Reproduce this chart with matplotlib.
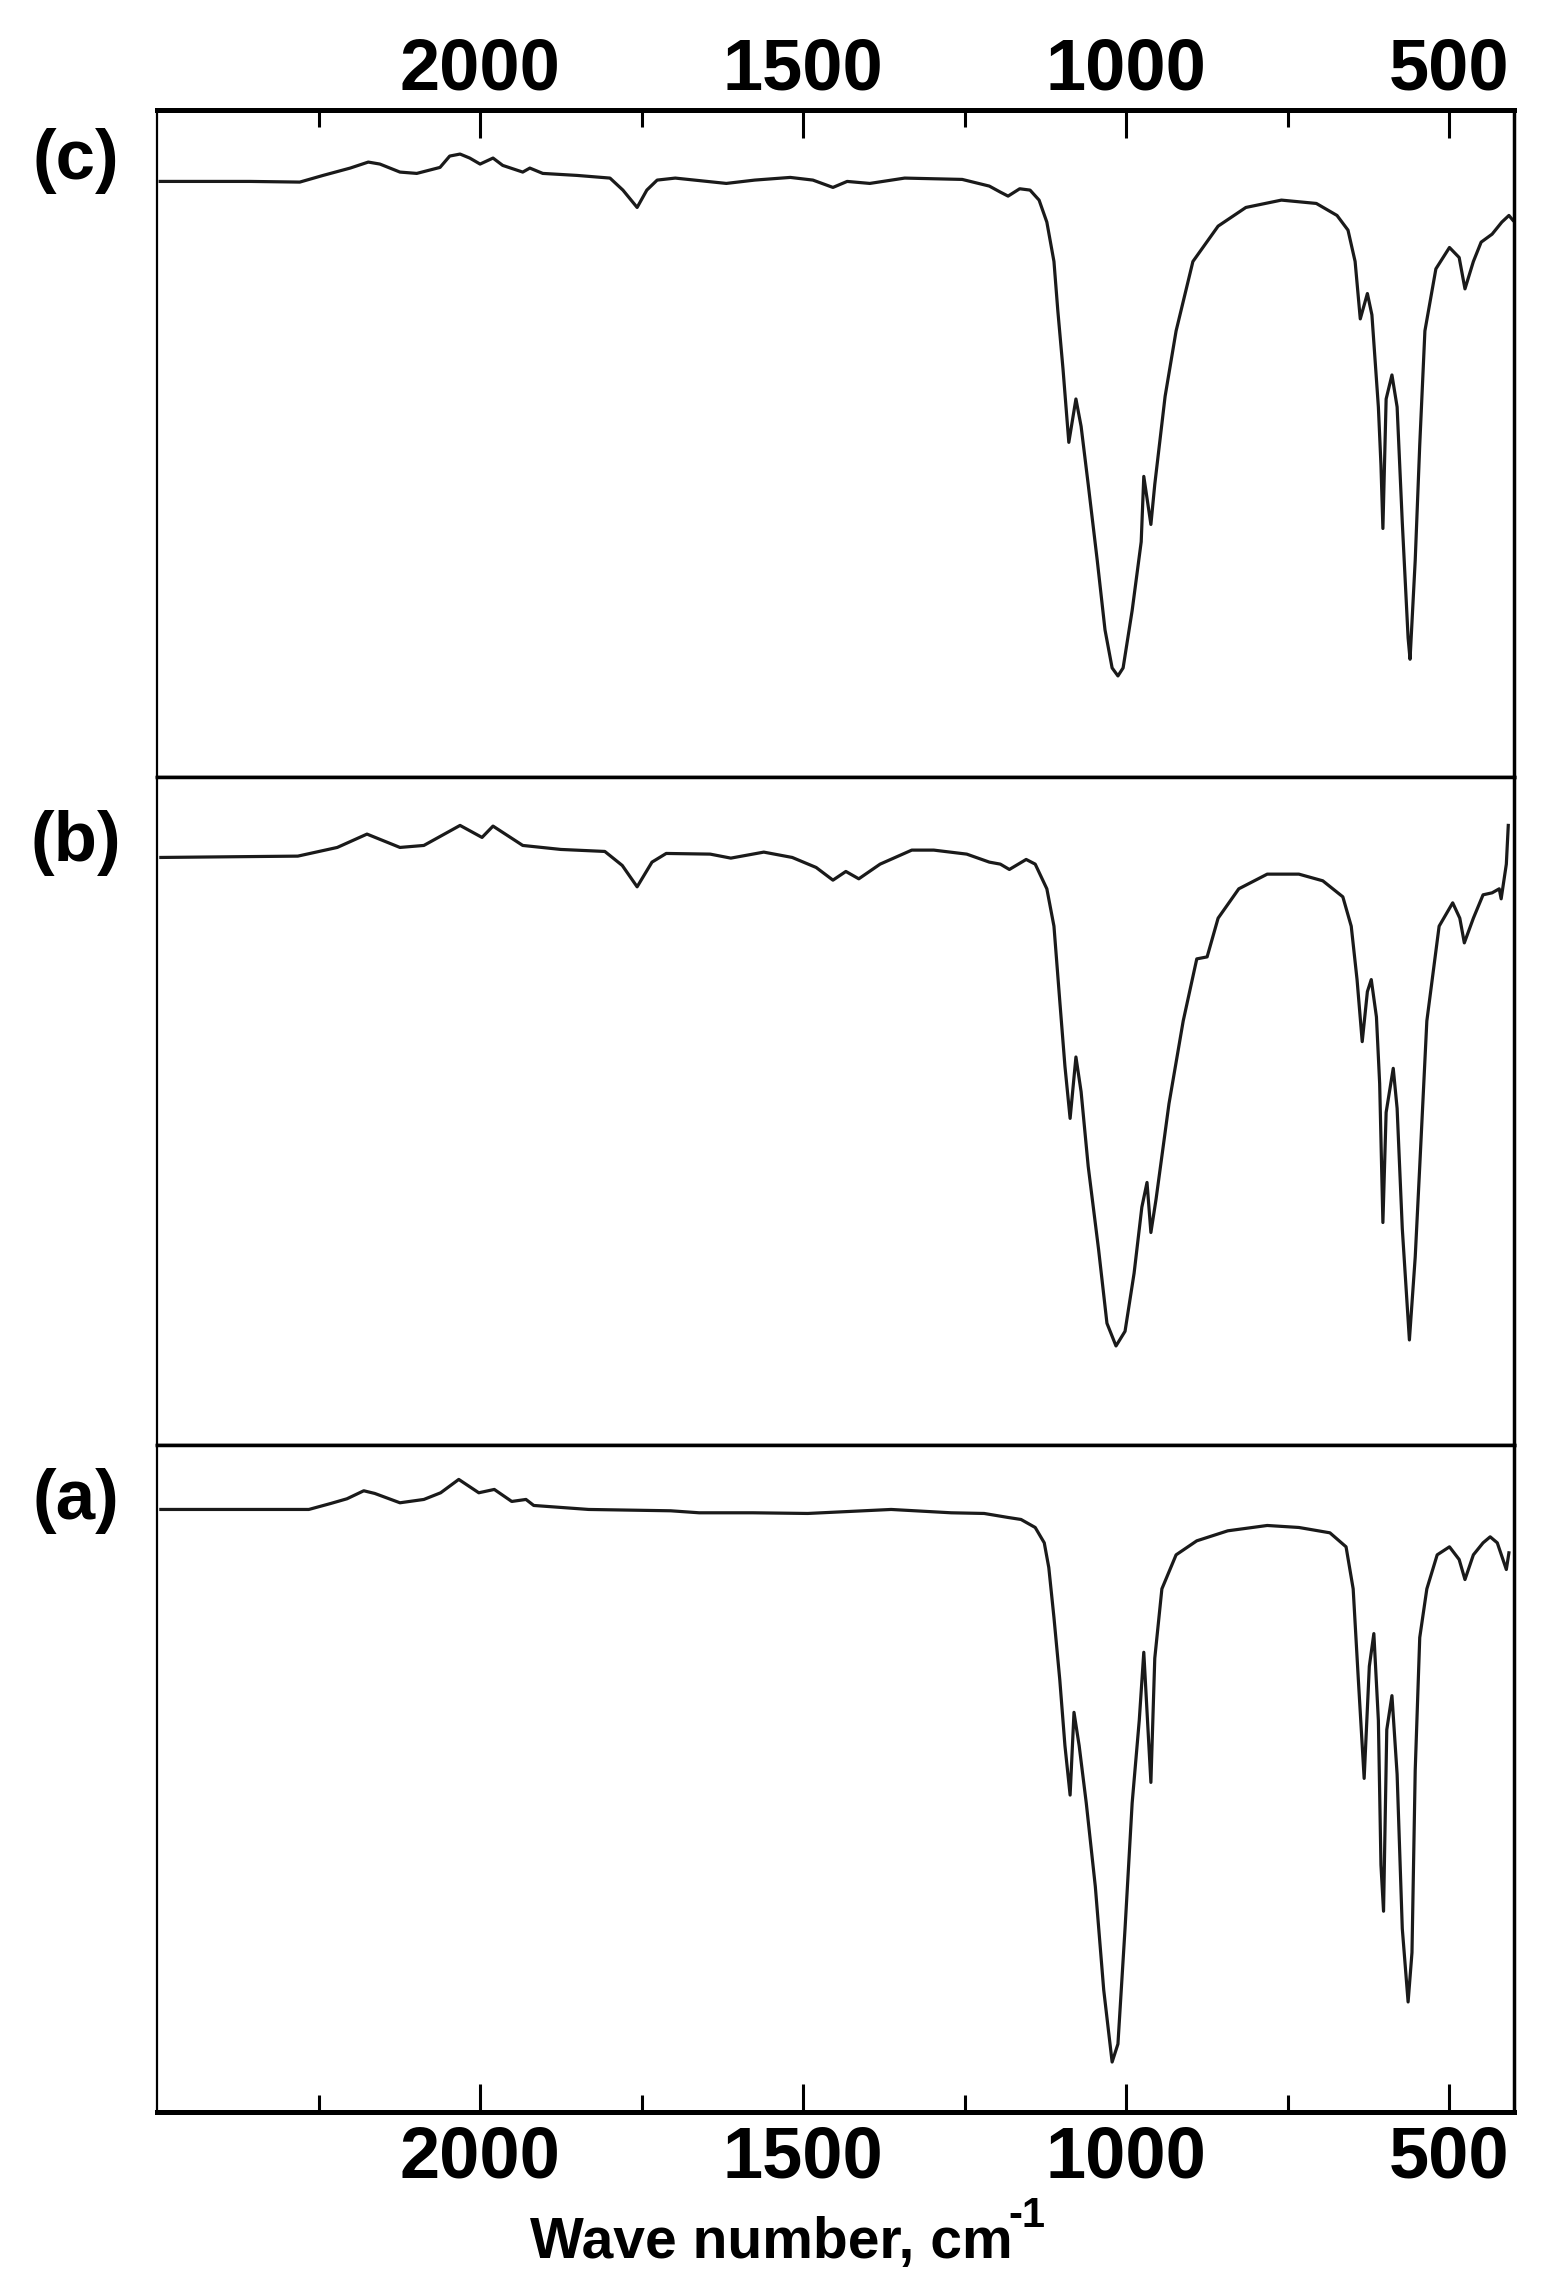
import numpy as np
import matplotlib.pyplot as plt

plt.rcParams.update({'font.family': ['Liberation Sans', 'DejaVu Sans'], 'font.weight': 'bold',
                     'axes.linewidth': 2.5})

# wavenumber (cm-1) / relative transmittance (% of panel height)
wn_c = [2495, 2356, 2279, 2243, 2201, 2173, 2155, 2124, 2098, 2062, 2047, 2031, 2016, 2000,
        1980, 1965, 1934, 1923, 1903, 1850, 1799, 1779, 1757, 1742, 1726, 1698, 1619, 1575,
        1520, 1485, 1454, 1432, 1397, 1343, 1254, 1212, 1195, 1183, 1165, 1149, 1135, 1123,
        1112, 1106, 1098, 1089, 1078, 1070, 1059, 1045, 1033, 1022, 1013, 1005, 991, 977,
        973, 962, 956, 940, 923, 897, 858, 815, 760, 706, 674, 657, 646, 638, 627, 620, 610,
        606, 603, 598, 589, 581, 573, 564, 561, 553, 546, 538, 521, 500, 485, 476, 463, 451,
        434, 419, 408, 402]
t_c = [89.3, 89.3, 89.2, 90.2, 91.3, 92.2, 91.9, 90.7, 90.5, 91.4, 93.1, 93.4, 92.8, 91.9,
       92.8, 91.7, 90.7, 91.3, 90.5, 90.2, 89.8, 88.0, 85.4, 88.0, 89.5, 89.8, 89.0, 89.5,
       89.9, 89.5, 88.4, 89.3, 89.0, 89.8, 89.6, 88.6, 87.7, 87.1, 88.2, 88.0, 86.5, 83.2,
       77.3, 69.9, 61.2, 50.2, 56.7, 52.6, 43.9, 32.5, 22.1, 16.4, 15.2, 16.4, 25.0, 35.3,
       45.1, 37.9, 43.9, 57.1, 66.9, 77.3, 82.6, 85.4, 86.5, 86.0, 84.2, 82.0, 77.3, 68.7,
       72.5, 69.3, 55.5, 46.8, 37.3, 56.7, 60.3, 55.5, 38.2, 20.9, 17.7, 32.5, 49.8, 66.9,
       76.2, 79.4, 77.9, 73.2, 77.3, 80.2, 81.4, 83.2, 84.2, 83.5]

wn_b = [2494, 2282, 2221, 2175, 2124, 2087, 2031, 1997, 1980, 1934, 1875, 1807, 1780, 1757,
        1734, 1712, 1644, 1612, 1561, 1517, 1480, 1454, 1434, 1414, 1381, 1332, 1298, 1247,
        1212, 1195, 1181, 1155, 1141, 1123, 1112, 1103, 1095, 1087, 1078, 1070, 1059, 1043,
        1030, 1016, 1002, 988, 976, 968, 962, 954, 934, 912, 891, 875, 858, 826, 782, 733,
        696, 665, 652, 643, 635, 627, 621, 613, 608, 603, 598, 587, 581, 573, 562, 553, 546,
        535, 516, 495, 484, 477, 463, 448, 434, 423, 420, 412, 409]
t_b = [88.0, 88.2, 89.5, 91.5, 89.5, 89.8, 92.8, 91.0, 92.7, 89.8, 89.2, 88.9, 86.8, 83.6,
       87.3, 88.6, 88.5, 87.9, 88.8, 88.0, 86.5, 84.6, 85.9, 84.8, 87.0, 89.1, 89.1, 88.5,
       87.3, 87.0, 86.2, 87.7, 87.0, 83.3, 77.7, 66.5, 56.7, 48.9, 58.1, 52.9, 41.7, 29.3,
       18.2, 14.8, 17.0, 25.7, 35.6, 39.3, 31.8, 36.8, 51.1, 63.5, 72.8, 73.1, 78.9, 83.3,
       85.5, 85.5, 84.5, 82.1, 77.7, 69.7, 60.4, 67.9, 69.7, 64.1, 54.1, 33.3, 49.8, 56.4,
       50.4, 32.4, 15.7, 28.1, 41.7, 63.5, 77.7, 81.2, 78.9, 75.2, 78.9, 82.4, 82.7, 83.3,
       81.8, 87.0, 92.8]

wn_a = [2494, 2265, 2231, 2206, 2180, 2163, 2124, 2087, 2061, 2033, 2002, 1978, 1951, 1929,
        1917, 1832, 1705, 1661, 1578, 1493, 1364, 1271, 1220, 1183, 1163, 1141, 1127, 1120,
        1112, 1103, 1095, 1087, 1081, 1073, 1062, 1048, 1035, 1022, 1013, 1002, 991, 980,
        973, 962, 956, 945, 923, 891, 843, 782, 733, 685, 660, 649, 641, 632, 624, 617, 610,
        606, 602, 597, 589, 581, 573, 564, 558, 553, 546, 535, 519, 500, 485, 476, 463, 448,
        437, 426, 412, 408]
t_a = [90.3, 90.3, 91.2, 91.9, 93.1, 92.7, 91.3, 91.8, 92.8, 94.8, 92.8, 93.3, 91.5, 91.8,
       90.9, 90.3, 90.1, 89.8, 89.8, 89.7, 90.3, 89.8, 89.7, 89.1, 88.8, 87.6, 85.3, 81.6,
       74.1, 64.8, 54.9, 47.5, 59.9, 54.9, 46.3, 33.8, 18.3, 7.5, 10.2, 27.5, 46.3, 58.7,
       68.9, 49.4, 68.0, 78.4, 83.5, 85.6, 87.1, 87.9, 87.6, 86.8, 84.7, 78.4, 64.8, 50.0,
       66.8, 71.7, 58.7, 37.0, 30.1, 57.3, 62.4, 50.6, 27.5, 16.5, 23.9, 51.2, 71.1, 78.4,
       83.5, 84.7, 82.8, 79.8, 83.5, 85.3, 86.2, 85.3, 81.3, 83.8]

panels = [('(c)', wn_c, t_c), ('(b)', wn_b, t_b), ('(a)', wn_a, t_a)]
label_y = [0.9298, 0.6322, 0.3451]
major = [2000, 1500, 1000, 500]
minor = [2250, 1750, 1250, 750]

fig, axes = plt.subplots(3, 1, figsize=(15.51, 22.92), dpi=100, sharex=True,
                         gridspec_kw={'hspace': 0})
fig.subplots_adjust(left=0.1012, right=0.9762, top=0.952, bottom=0.0785)

for ax, (lab, wn, t), ly in zip(axes, panels, label_y):
    ax.plot(wn, t, color='#1a1a1a', lw=2.3)
    ax.set_ylim(0, 100)
    ax.set_yticks([])
    fig.text(0.049, ly, lab, ha='center', va='center', fontsize=51, fontweight='bold')

ax0 = axes[0]
ax0.set_xlim(2500, 400)
ax0.set_xticks(major)
ax0.set_xticks(minor, minor=True)
for ax in axes:
    ax.tick_params(which='both', direction='in', top=False, bottom=False,
                   labeltop=False, labelbottom=False)
axes[0].tick_params(which='both', top=True, labeltop=True, width=2.2)
axes[0].tick_params(which='major', length=20, labelsize=52, pad=4)
axes[0].tick_params(which='minor', length=12)
axes[0].spines['top'].set_linewidth(3.6)
axes[2].tick_params(which='both', bottom=True, labelbottom=True, width=2.2)
axes[2].tick_params(which='major', length=20, labelsize=52, pad=9)
axes[2].tick_params(which='minor', length=12)
axes[2].spines['bottom'].set_linewidth(3.6)
for ax in axes:
    for lbl in ax.get_xticklabels():
        lbl.set_fontweight('bold')
    ax.spines['left'].set_linewidth(1.6)

fig.text(771 / 1551, 1 - 2258 / 2292, 'Wave number, cm', ha='center', va='baseline',
         fontsize=41, fontweight='bold')
fig.text(1008 / 1551, 1 - 2227 / 2292, '-1', ha='left', va='baseline',
         fontsize=30, fontweight='bold')

fig.savefig('out.png', dpi=100)
